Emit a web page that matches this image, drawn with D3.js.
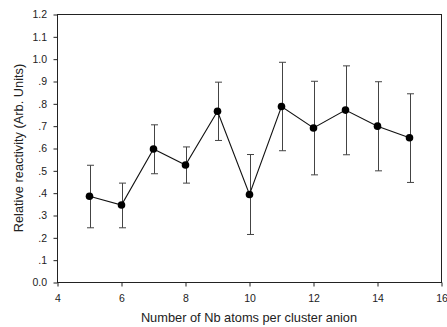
<!DOCTYPE html>
<html>
<head>
<meta charset="utf-8">
<script src="https://cdn.jsdelivr.net/npm/d3@7"></script>
<style>
  body { margin: 0; background: #fff; }
  svg { display: block; font-family: Arial, "Liberation Sans", sans-serif; }
</style>
</head>
<body>
<div id="draw"></div>
<script>
// cluster size vs relative reactivity, with error bars
var atoms = [5, 6, 7, 8, 9, 10, 11, 12, 13, 14, 15];
var reactivity = [0.386, 0.347, 0.598, 0.526, 0.767, 0.394, 0.788, 0.692, 0.772, 0.700, 0.648];
var errUpper = [0.525, 0.445, 0.706, 0.607, 0.897, 0.573, 0.986, 0.901, 0.970, 0.899, 0.845];
var errLower = [0.245, 0.245, 0.487, 0.445, 0.636, 0.215, 0.590, 0.482, 0.572, 0.500, 0.448];
var xTicks = [4, 6, 8, 10, 12, 14, 16];
var yTicks = [0, 0.1, 0.2, 0.3, 0.4, 0.5, 0.6, 0.7, 0.8, 0.9, 1.0, 1.1, 1.2];

var W = 447, H = 327;
var m = {left: 57.5, right: 441.5, top: 14.5, bottom: 282.5};

var svg = d3.select('#draw').append('svg').attr('width', W).attr('height', H);

var x = d3.scaleLinear().domain([4, 16]).range([m.left, m.right]);
var y = d3.scaleLinear().domain([0, 1.2]).range([m.bottom, m.top]);

// frame
svg.append('rect')
  .attr('x', m.left).attr('y', m.top)
  .attr('width', m.right - m.left).attr('height', m.bottom - m.top)
  .attr('fill', 'none').attr('stroke', '#222').attr('stroke-width', 1);

function yFmt(d) {
  var s = d3.format('.1f')(d);
  return d > 0 && d < 1 ? s.replace(/^0/, '') : s;
}

var gx = svg.append('g').attr('transform', 'translate(0,' + m.bottom + ')')
  .call(d3.axisBottom(x).tickValues(xTicks).tickSize(4).tickPadding(8).tickFormat(d3.format('d')));
var gy = svg.append('g').attr('transform', 'translate(' + m.left + ',0)')
  .call(d3.axisLeft(y).tickValues(yTicks).tickSize(4).tickPadding(6.5).tickFormat(yFmt));

[gx, gy].forEach(function(g) {
  g.select('.domain').remove();
  g.selectAll('line').attr('stroke', '#222');
  g.selectAll('text').attr('fill', '#222').style('font-size', '10.5px')
    .style('font-family', 'Arial, "Liberation Sans", sans-serif');
});

// error bars
var eb = svg.append('g').attr('stroke', '#444').attr('stroke-width', 1);
atoms.forEach(function(a, i) {
  var cx = Math.round(x(a)) + 0.5;
  eb.append('line').attr('x1', cx).attr('x2', cx).attr('y1', y(errLower[i])).attr('y2', y(errUpper[i]));
  eb.append('line').attr('x1', cx - 3.5).attr('x2', cx + 3.5).attr('y1', y(errUpper[i])).attr('y2', y(errUpper[i]));
  eb.append('line').attr('x1', cx - 3.5).attr('x2', cx + 3.5).attr('y1', y(errLower[i])).attr('y2', y(errLower[i]));
});

// connecting line
var line = d3.line().x(function(d, i) { return x(d); }).y(function(d, i) { return y(reactivity[i]); });
svg.append('path').attr('d', line(atoms))
  .attr('fill', 'none').attr('stroke', '#111').attr('stroke-width', 1.1);

// markers
svg.selectAll('circle.pt').data(atoms).enter().append('circle')
  .attr('class', 'pt')
  .attr('cx', function(d) { return x(d); })
  .attr('cy', function(d, i) { return y(reactivity[i]); })
  .attr('r', 3.8).attr('fill', '#000');

// axis titles
svg.append('text').attr('x', 249).attr('y', 322)
  .attr('text-anchor', 'middle').style('font-size', '12.8px').attr('fill', '#222')
  .text('Number of Nb atoms per cluster anion');
svg.append('text').attr('transform', 'translate(22.5,148) rotate(-90)')
  .attr('text-anchor', 'middle').style('font-size', '12.8px').attr('fill', '#222')
  .text('Relative reactivity (Arb. Units)');
</script>
</body>
</html>
